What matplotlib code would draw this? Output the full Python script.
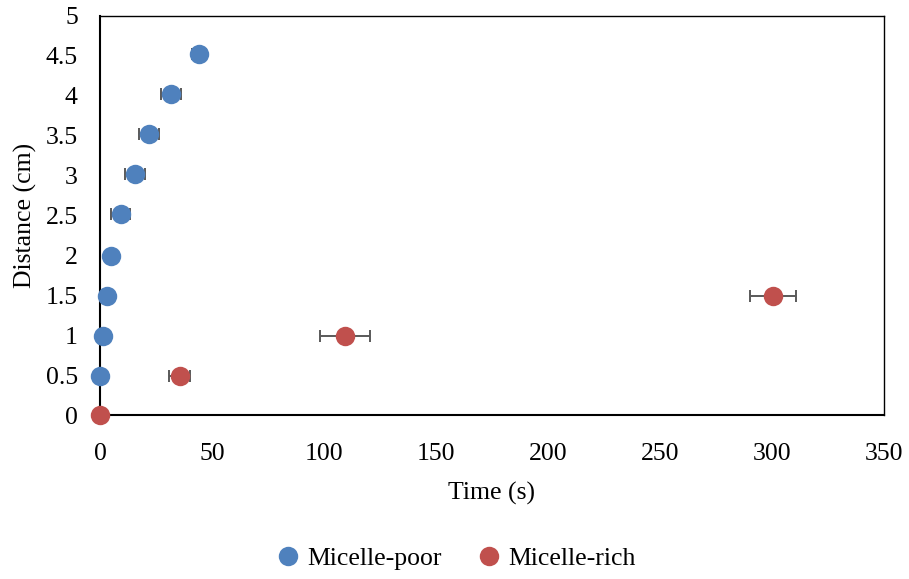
import matplotlib
matplotlib.use("Agg")
import matplotlib.pyplot as plt
from matplotlib.ticker import FixedLocator, FuncFormatter

plt.rcParams['font.family'] = ['Liberation Serif', 'DejaVu Serif']

# Micelle-poor front: time (s), distance (cm), time spread (s)
poor_time = [0.2, 1.2, 3.0, 4.8, 9.2, 15.5, 21.7, 31.6, 44.2]
poor_dist = [0.5, 1.0, 1.5, 2.0, 2.52, 3.02, 3.52, 4.02, 4.52]
poor_err = [0.5, 0.8, 1.2, 2.0, 4.3, 4.5, 4.5, 4.5, 3.0]

# Micelle-rich front
rich_time = [0.0, 35.5, 109.4, 300.4]
rich_dist = [0.0, 0.5, 1.0, 1.5]
rich_err = [0.3, 4.7, 11.0, 10.3]

x_ticks = [0, 50, 100, 150, 200, 250, 300, 350]
y_ticks = [0, 0.5, 1, 1.5, 2, 2.5, 3, 3.5, 4, 4.5, 5]

blue = '#4F81BD'
red = '#C0504D'
err_col = '#595959'
fs = 18.5

fig = plt.figure(figsize=(9.09, 5.79), dpi=100)
ax = fig.add_axes([0.110, 0.2824, 0.8625, 0.69])

for t, d, e, c, lab in [(poor_time, poor_dist, poor_err, blue, 'Micelle-poor'),
                        (rich_time, rich_dist, rich_err, red, 'Micelle-rich')]:
    ax.errorbar(t, d, xerr=e, fmt='none', ecolor=err_col, elinewidth=1.4,
                capsize=4.3, capthick=1.4, zorder=2)
    ax.plot(t, d, 'o', color=c, markersize=14, markeredgewidth=0,
            label=lab, zorder=3, clip_on=False)

ax.set_xlim(0, 350)
ax.set_ylim(0, 5)
ax.xaxis.set_major_locator(FixedLocator(x_ticks))
ax.yaxis.set_major_locator(FixedLocator(y_ticks))
ax.yaxis.set_major_formatter(FuncFormatter(lambda v, p: f'{v:g}'))
ax.tick_params(length=0, labelsize=fs, colors='black')
ax.tick_params(axis='x', pad=20)
ax.tick_params(axis='y', pad=16)

for s in ax.spines.values():
    s.set_color('black')
    s.set_linewidth(1.0)
ax.spines['left'].set_linewidth(1.5)
ax.spines['bottom'].set_linewidth(1.5)

ax.set_xlabel('Time (s)', fontsize=fs, labelpad=12)
ax.set_ylabel('Distance (cm)', fontsize=fs, labelpad=6)

fig.legend(loc='center', bbox_to_anchor=(0.50, 0.035), ncol=2, frameon=False,
           fontsize=fs, handletextpad=0.2, columnspacing=1.3, markerscale=1.0,
           handlelength=1.1)

fig.savefig('out.png', dpi=100)
